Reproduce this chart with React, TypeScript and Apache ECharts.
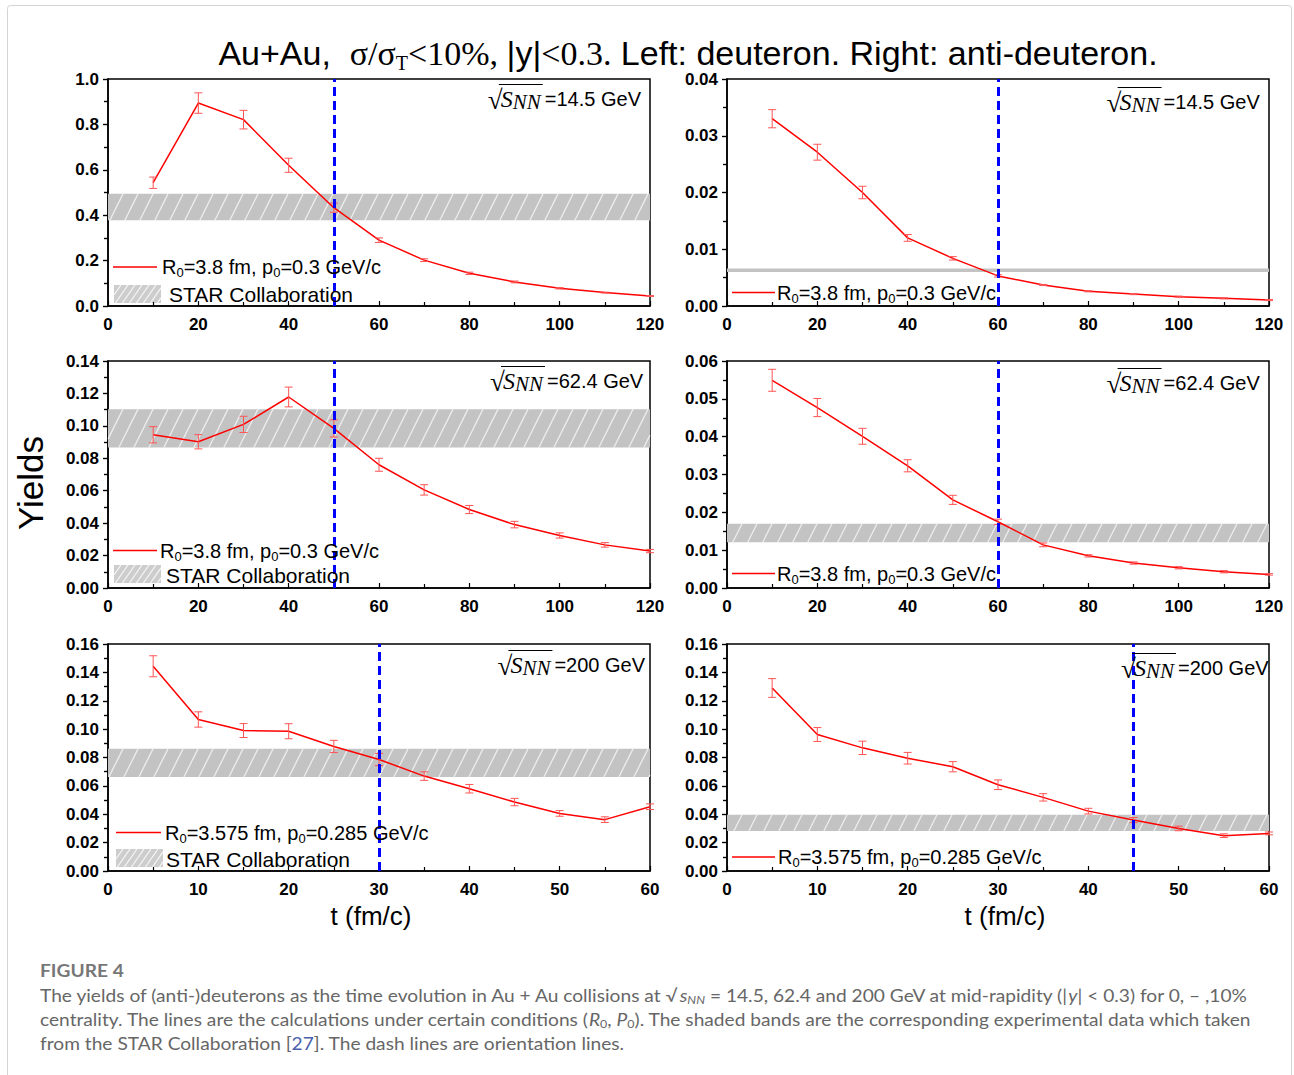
import React, { useEffect, useRef } from "react";
import * as echarts from "echarts";

// ---------------- data ----------------
const tLong = [10, 20, 30, 40, 50, 60, 70, 80, 90, 100, 110, 120];
const tShort = [5, 10, 15, 20, 25, 30, 35, 40, 45, 50, 55, 60];

const deut14 = [0.543, 0.894, 0.821, 0.62, 0.433, 0.29, 0.202, 0.144, 0.106, 0.078, 0.059, 0.044];
const deut14Err = [0.025, 0.045, 0.041, 0.031, 0.02, 0.01, 0.006, 0.005, 0.004, 0.003, 0.002, 0.002];
const anti14 = [0.033, 0.0271, 0.02, 0.012, 0.0084, 0.0053, 0.0037, 0.0026, 0.0021, 0.00165, 0.00135, 0.00105];
const anti14Err = [0.0016, 0.0014, 0.0011, 0.0006, 0.0003, 0.0002, 0.0001, 0.0001, 0.0001, 0.0001, 0.0001, 0.0001];

const deut62 = [0.0945, 0.0902, 0.1009, 0.1178, 0.0984, 0.076, 0.0605, 0.0484, 0.0391, 0.0324, 0.0266, 0.0228];
const deut62Err = [0.005, 0.0044, 0.005, 0.0061, 0.0053, 0.004, 0.0032, 0.0025, 0.002, 0.0016, 0.0014, 0.001];
const anti62 = [0.0549, 0.0477, 0.0401, 0.0323, 0.0233, 0.0175, 0.0114, 0.0085, 0.0066, 0.00535, 0.0043, 0.0036];
const anti62Err = [0.0029, 0.0024, 0.0021, 0.0016, 0.0012, 0.0007, 0.0005, 0.0003, 0.0003, 0.0003, 0.0003, 0.0002];

const deut200 = [0.1443, 0.1068, 0.099, 0.0985, 0.0878, 0.0786, 0.0669, 0.058, 0.0486, 0.0406, 0.0362, 0.0453];
const deut200Err = [0.0074, 0.0054, 0.0049, 0.0053, 0.0043, 0.0043, 0.003, 0.003, 0.0026, 0.002, 0.002, 0.002];
const anti200 = [0.129, 0.0962, 0.0868, 0.0795, 0.0735, 0.0608, 0.0519, 0.0422, 0.0359, 0.03, 0.0249, 0.0265];
const anti200Err = [0.0066, 0.0049, 0.0047, 0.0041, 0.0036, 0.0034, 0.0026, 0.002, 0.0018, 0.0016, 0.0013, 0.001];

// STAR bands [low, high]
const starDeut14 = [0.378, 0.494];
const starAnti14 = [0.006, 0.0066];
const starDeut62 = [0.0867, 0.1103];
const starAnti62 = [0.0121, 0.017];
const starDeut200 = [0.0662, 0.0861];
const starAnti200 = [0.0282, 0.0397];

// orientation (dashed) lines
const orientLines = [50, 60, 50, 60, 30, 45];
const energies = ["14.5", "14.5", "62.4", "62.4", "200", "200"];
const paramR0 = ["3.8", "3.8", "3.8", "3.8", "3.575", "3.575"];
const paramP0 = ["0.3", "0.3", "0.3", "0.3", "0.285", "0.285"];

// ---------------- styling ----------------
const SANS = "'Liberation Sans', Arial, sans-serif";
const SERIF = "'Liberation Serif', 'Times New Roman', serif";
const CAPF = "Lato, 'Open Sans', sans-serif";

const colLeft = [108, 727];
const rowTop = [79, 361, 644];
const GW = 542;
const GH = 227;

type Panel = {
  t: number[]; y: number[]; err: number[]; band: number[]; orient: number;
  xMax: number; xStep: number; yMax: number; yStep: number; dec: number;
  col: number; row: number; energy: string; r0: string; p0: string; star: boolean;
  eLabel: [number, number];
  legLine: [number, number, number, number];
  starBox?: [number, number, number, number, number, number];
};

const panels: Panel[] = [
  { t: tLong, y: deut14, err: deut14Err, band: starDeut14, orient: orientLines[0], xMax: 120, xStep: 20, yMax: 1.0, yStep: 0.2, dec: 1, col: 0, row: 0, energy: energies[0], r0: paramR0[0], p0: paramP0[0], star: true,
    eLabel: [489.8, 99], legLine: [113, 157, 267, 162], starBox: [114, 285, 47, 18, 169, 294] },
  { t: tLong, y: anti14, err: anti14Err, band: starAnti14, orient: orientLines[1], xMax: 120, xStep: 20, yMax: 0.04, yStep: 0.01, dec: 2, col: 1, row: 0, energy: energies[1], r0: paramR0[1], p0: paramP0[1], star: false,
    eLabel: [1108.6, 102], legLine: [732, 775, 292.5, 777] },
  { t: tLong, y: deut62, err: deut62Err, band: starDeut62, orient: orientLines[2], xMax: 120, xStep: 20, yMax: 0.14, yStep: 0.02, dec: 2, col: 0, row: 1, energy: energies[2], r0: paramR0[2], p0: paramP0[2], star: true,
    eLabel: [492, 381], legLine: [113, 157, 550.5, 160], starBox: [114, 565, 47, 18, 166, 575] },
  { t: tLong, y: anti62, err: anti62Err, band: starAnti62, orient: orientLines[3], xMax: 120, xStep: 20, yMax: 0.06, yStep: 0.01, dec: 2, col: 1, row: 1, energy: energies[3], r0: paramR0[3], p0: paramP0[3], star: false,
    eLabel: [1108.6, 383], legLine: [732, 775, 573.5, 777] },
  { t: tShort, y: deut200, err: deut200Err, band: starDeut200, orient: orientLines[4], xMax: 60, xStep: 10, yMax: 0.16, yStep: 0.02, dec: 2, col: 0, row: 2, energy: energies[4], r0: paramR0[4], p0: paramP0[4], star: true,
    eLabel: [499.4, 665], legLine: [116, 161, 832.5, 165], starBox: [116, 849, 47, 18, 166, 859.5] },
  { t: tShort, y: anti200, err: anti200Err, band: starAnti200, orient: orientLines[5], xMax: 60, xStep: 10, yMax: 0.16, yStep: 0.02, dec: 2, col: 1, row: 2, energy: energies[5], r0: paramR0[5], p0: paramP0[5], star: false,
    eLabel: [1123, 668], legLine: [732, 775, 857, 778] },
];

function hatch(x: number, y: number, w: number, h: number, fill: string, stroke: string, step = 15, slope = 0.5) {
  const els: any[] = [{ type: "rect", shape: { x, y, width: w, height: h }, style: { fill } }];
  if (h < 6) return els; // very thin band drawn solid
  const dx = slope * h;
  for (let x0 = x - dx; x0 < x + w; x0 += step) {
    const t0 = Math.max(0, (x - x0) / dx);
    const t1 = Math.min(1, (x + w - x0) / dx);
    if (t1 <= t0) continue;
    els.push({
      type: "line",
      shape: { x1: x0 + t0 * dx, y1: y + h - t0 * h, x2: x0 + t1 * dx, y2: y + h - t1 * h },
      style: { stroke, lineWidth: 1.3 },
    });
  }
  return els;
}

function buildOption() {
  const grid: any[] = [];
  const xAxis: any[] = [];
  const yAxis: any[] = [];
  const series: any[] = [];
  const graphic: any[] = [];

  panels.forEach((p, i) => {
    grid.push({
      left: colLeft[p.col], top: rowTop[p.row], width: GW, height: GH,
      show: true, borderColor: "#000", borderWidth: 1.5, backgroundColor: "transparent",
    });
    xAxis.push({
      gridIndex: i, type: "value", min: 0, max: p.xMax, interval: p.xStep, position: "bottom",
      axisLine: { show: true, onZero: false, lineStyle: { color: "#000", width: 1.5 } },
      axisTick: { show: true, inside: true, length: 5, lineStyle: { color: "#000", width: 1.2 } },
      minorTick: { show: true, splitNumber: 2, length: 4, lineStyle: { color: "#000", width: 1.2 } },
      splitLine: { show: false },
      axisLabel: { fontFamily: SANS, fontSize: 17, fontWeight: "bold", color: "#000", margin: 10 },
    });
    const yCommon = { gridIndex: i, type: "value", min: 0, max: p.yMax, interval: p.yStep, splitLine: { show: false } };
    yAxis.push({
      ...yCommon, position: "left",
      axisLine: { show: true, onZero: false, lineStyle: { color: "#000", width: 1.5 } },
      axisTick: { show: true, inside: false, length: 5, lineStyle: { color: "#000", width: 1.2 } },
      minorTick: { show: true, splitNumber: 2, length: 4, lineStyle: { color: "#000", width: 1.2 } },
      axisLabel: {
        fontFamily: SANS, fontSize: 17, fontWeight: "bold", color: "#000", margin: 9,
        formatter: (v: number) => v.toFixed(p.dec),
      },
    });
    yAxis.push({
      ...yCommon, position: "right",
      axisLine: { show: false },
      axisTick: { show: true, inside: true, length: 5, lineStyle: { color: "#000", width: 1.2 } },
      minorTick: { show: true, splitNumber: 2, length: 4, lineStyle: { color: "#000", width: 1.2 } },
      axisLabel: { show: false },
    });

    // STAR band
    series.push({
      type: "custom", xAxisIndex: i, yAxisIndex: 2 * i, z: 1, silent: true,
      data: [[p.band[0], p.band[1], 0, p.xMax]],
      encode: { x: [2, 3], y: [0, 1] },
      renderItem: (params: any, api: any) => {
        const a = api.coord([api.value(2), api.value(1)]);
        const b = api.coord([api.value(3), api.value(0)]);
        return { type: "group", children: hatch(a[0], a[1], b[0] - a[0], b[1] - a[1], "#c3c3c3", "rgba(255,255,255,0.7)") };
      },
    });
    // model curve
    series.push({
      type: "line", xAxisIndex: i, yAxisIndex: 2 * i, z: 3,
      data: p.t.map((t, k) => [t, p.y[k]]),
      symbol: "none", showSymbol: false,
      lineStyle: { color: "#ff0000", width: 1.5 },
    });
    // error bars
    series.push({
      type: "custom", xAxisIndex: i, yAxisIndex: 2 * i, z: 4, silent: true,
      data: p.t.map((t, k) => [t, p.y[k] - p.err[k], p.y[k] + p.err[k]]),
      encode: { x: 0, y: [1, 2] },
      renderItem: (params: any, api: any) => {
        const lo = api.coord([api.value(0), api.value(1)]);
        const hi = api.coord([api.value(0), api.value(2)]);
        const cw = 4;
        const st = { stroke: "#ff5555", lineWidth: 1 };
        return {
          type: "group",
          children: [
            { type: "line", shape: { x1: lo[0], y1: lo[1], x2: hi[0], y2: hi[1] }, style: st },
            { type: "line", shape: { x1: lo[0] - cw, y1: lo[1], x2: lo[0] + cw, y2: lo[1] }, style: st },
            { type: "line", shape: { x1: hi[0] - cw, y1: hi[1], x2: hi[0] + cw, y2: hi[1] }, style: st },
          ],
        };
      },
    });
    // orientation line
    series.push({
      type: "line", xAxisIndex: i, yAxisIndex: 2 * i, z: 5, data: [],
      markLine: {
        silent: true, symbol: ["none", "none"], label: { show: false },
        lineStyle: { color: "#0000ff", width: 3, type: [9, 5] },
        data: [{ xAxis: p.orient }],
      },
    });

    // energy label
    const [ex, ey] = p.eLabel;
    graphic.push({ type: "text", x: ex - 2, y: ey + 1, z: 10,
      style: { text: "√", fontFamily: SERIF, fontSize: 27, fill: "#000", align: "left", verticalAlign: "middle", textAlign: "left", textVerticalAlign: "middle" } });
    graphic.push({ type: "line", z: 10, shape: { x1: ex + 9, y1: ey - 14.5, x2: ex + 53, y2: ey - 14.5 }, style: { stroke: "#000", lineWidth: 1.2 } });
    graphic.push({ type: "text", x: ex + 11, y: ey, z: 10,
      style: {
        text: "{s|S}{n|NN}", align: "left", verticalAlign: "middle", textAlign: "left", textVerticalAlign: "middle",
        rich: {
          s: { fontFamily: SERIF, fontStyle: "italic", fontSize: 24, lineHeight: 26, fill: "#000" },
          n: { fontFamily: SERIF, fontStyle: "italic", fontSize: 21, lineHeight: 16, verticalAlign: "bottom", fill: "#000" },
        },
      } });
    graphic.push({ type: "text", x: ex + 55, y: ey, z: 10,
      style: { text: "=" + p.energy + " GeV", fontFamily: SANS, fontSize: 20, fill: "#000", align: "left", verticalAlign: "middle", textAlign: "left", textVerticalAlign: "middle" } });

    // legend
    const [lx1, lx2, ly, ltx] = p.legLine;
    graphic.push({ type: "line", z: 10, shape: { x1: lx1, y1: ly, x2: lx2, y2: ly }, style: { stroke: "#ff0000", lineWidth: 1.5 } });
    graphic.push({ type: "text", x: ltx, y: ly, z: 10,
      style: {
        text: `{m|R}{s|0}{m|=${p.r0} fm, p}{s|0}{m|=${p.p0} GeV/c}`,
        align: "left", verticalAlign: "middle", textAlign: "left", textVerticalAlign: "middle",
        rich: {
          m: { fontFamily: SANS, fontSize: 20, lineHeight: 24, fill: "#000" },
          s: { fontFamily: SANS, fontSize: 13, lineHeight: 4, verticalAlign: "bottom", fill: "#000" },
        },
      } });
    if (p.star && p.starBox) {
      const [bx, by, bw, bh, tx, ty] = p.starBox;
      graphic.push({ type: "group", z: 10, children: hatch(bx, by, bw, bh, "#cdcdcd", "rgba(255,255,255,0.8)", 7, 0.7) });
      graphic.push({ type: "text", x: tx, y: ty, z: 10,
        style: { text: "STAR Collaboration", fontFamily: SANS, fontSize: 21, fill: "#000", align: "left", verticalAlign: "middle", textAlign: "left", textVerticalAlign: "middle" } });
    }
  });

  // frame
  graphic.push({ type: "rect", z: 0, shape: { x: 7.5, y: 5.5, width: 1284, height: 1090, r: 3 }, style: { fill: "none", stroke: "#d4d4d4", lineWidth: 1 } });

  // title
  graphic.push({ type: "text", x: 688, y: 53, z: 10,
    style: {
      text: "{a|Au+Au,  }{t|σ/σ}{ts|T}{t|<10%, }{a||y|}{t|<0.3.}{a| Left: deuteron. Right: anti-deuteron.}",
      align: "center", verticalAlign: "middle", textAlign: "center", textVerticalAlign: "middle",
      rich: {
        a: { fontFamily: SANS, fontSize: 34, lineHeight: 40, fill: "#000" },
        t: { fontFamily: SERIF, fontSize: 34, lineHeight: 40, fill: "#000" },
        ts: { fontFamily: SERIF, fontSize: 20, lineHeight: 10, verticalAlign: "bottom", fill: "#000" },
      },
    } });

  // axis titles
  graphic.push({ type: "text", x: 30, y: 483, rotation: Math.PI / 2, z: 10,
    style: { text: "Yields", fontFamily: SANS, fontSize: 35, fill: "#000", align: "center", verticalAlign: "middle", textAlign: "center", textVerticalAlign: "middle" } });
  [371, 1005].forEach((cx) => {
    graphic.push({ type: "text", x: cx, y: 916, z: 10,
      style: { text: "t (fm/c)", fontFamily: SANS, fontSize: 26, fill: "#000", align: "center", verticalAlign: "middle", textAlign: "center", textVerticalAlign: "middle" } });
  });

  // caption
  let capScale = 1;
  try {
    const ctx = document.createElement("canvas").getContext("2d");
    if (ctx) {
      ctx.font = "17px Lato";
      const w = ctx.measureText("centrality. The lines are the calculations under certain conditions (R0, P0). The shaded bands are the corresponding experimental data which taken").width;
      if (w > 0) capScale = 1221 / w;
    }
  } catch (e) { /* ignore */ }
  const capRich = {
    c: { fontFamily: CAPF, fontSize: 17, lineHeight: 20, fill: "#666" },
    i: { fontFamily: CAPF, fontSize: 17, fontStyle: "italic", lineHeight: 20, fill: "#666" },
    sub: { fontFamily: CAPF, fontSize: 11, lineHeight: 8, verticalAlign: "bottom", fill: "#666" },
    isub: { fontFamily: CAPF, fontSize: 11, fontStyle: "italic", lineHeight: 8, verticalAlign: "bottom", fill: "#666" },
    b: { fontFamily: CAPF, fontSize: 17, lineHeight: 20, fill: "#4a5fae" },
  };
  graphic.push({ type: "text", x: 40, y: 970, z: 10, scaleX: capScale,
    style: { text: "FIGURE 4", fontFamily: CAPF, fontSize: 17, fontWeight: "bold", fill: "#777", align: "left", verticalAlign: "middle", textAlign: "left", textVerticalAlign: "middle" } });
  const capLines = [
    "{c|The yields of (anti-)deuterons as the time evolution in Au + Au collisions at √}{i|s}{isub|NN}{c| = 14.5, 62.4 and 200 GeV at mid-rapidity (|}{i|y}{c|| < 0.3) for 0, – ,10%}",
    "{c|centrality. The lines are the calculations under certain conditions (}{i|R}{sub|0}{c|, }{i|P}{sub|0}{c|). The shaded bands are the corresponding experimental data which taken}",
    "{c|from the STAR Collaboration [}{b|27}{c|]. The dash lines are orientation lines.}",
  ];
  capLines.forEach((txt, k) => {
    graphic.push({ type: "text", x: 40, y: 995 + 24 * k, z: 10, scaleX: capScale,
      style: { text: txt, rich: capRich, align: "left", verticalAlign: "middle", textAlign: "left", textVerticalAlign: "middle" } });
  });

  return { animation: false, backgroundColor: "#fff", grid, xAxis, yAxis, series, graphic };
}

export default function App() {
  const ref = useRef<HTMLDivElement>(null);
  useEffect(() => {
    if (!ref.current) return;
    const chart = echarts.init(ref.current, null, { renderer: "svg", width: 1294, height: 1075 });
    chart.setOption(buildOption() as any);
    return () => chart.dispose();
  }, []);
  return (
    <div
      ref={ref}
      style={{ position: "absolute", left: 0, top: 0, width: 1294, height: 1075, background: "#fff" }}
    />
  );
}
